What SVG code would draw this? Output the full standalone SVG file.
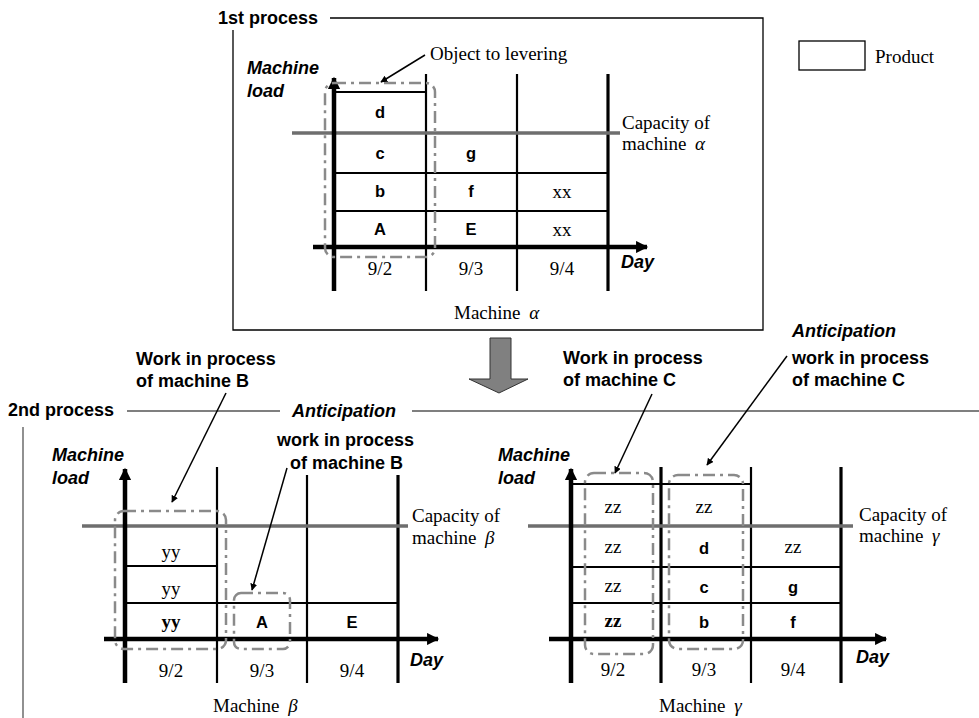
<svg xmlns="http://www.w3.org/2000/svg" width="979" height="718" viewBox="0 0 979 718">
<style>
.bs{font-family:"Liberation Sans",Arial,sans-serif;font-weight:bold;font-size:18px;fill:#000}
.bi{font-family:"Liberation Sans",Arial,sans-serif;font-weight:bold;font-style:italic;font-size:18px;fill:#000}
.cell{font-family:"Liberation Sans",Arial,sans-serif;font-weight:bold;font-size:16.5px;fill:#000;text-anchor:middle}
.sr{font-family:"Liberation Serif","Times New Roman",serif;font-size:19px;fill:#000}
.src{font-family:"Liberation Serif","Times New Roman",serif;font-size:19px;fill:#000;text-anchor:middle}
.srb{font-family:"Liberation Serif","Times New Roman",serif;font-size:19px;font-weight:bold;fill:#000;text-anchor:middle}
.gk{font-style:italic}
.frame{fill:none;stroke:#000;stroke-width:1.3}
.frame2{fill:none;stroke:#555;stroke-width:1.3}
.axis{stroke:#000;stroke-width:4.5;fill:none}
.col{stroke:#000;stroke-width:2.2;fill:none}
.colT{stroke:#000;stroke-width:3.2;fill:none}
.row{stroke:#000;stroke-width:2;fill:none}
.cap{stroke:#6e6e6e;stroke-width:3.5;fill:none}
.dash{fill:none;stroke:#8a8a8a;stroke-width:2.5;stroke-dasharray:12 5 3 5}
.lead{stroke:#000;stroke-width:1.5;fill:none;marker-end:url(#ah)}
</style>
<defs>
<marker id="ah" viewBox="0 0 10 10" refX="9" refY="5" markerWidth="7" markerHeight="7" markerUnits="userSpaceOnUse" orient="auto">
<path d="M0,0 L10,5 L0,10 z" fill="#000"/>
</marker>
<marker id="ax" viewBox="0 0 10 10" refX="9" refY="5" markerWidth="3.1" markerHeight="2.7" orient="auto">
<path d="M0,0 L10,5 L0,10 z" fill="#000"/>
</marker>
</defs>
<rect width="979" height="718" fill="#fff"/>

<g id="process1-frame">
<text class="bs" x="218" y="24">1st process</text>
<path class="frame" d="M330,18 H763 V330 H233 V30"/>
</g>

<g id="legend">
<rect x="799" y="41" width="66" height="29" fill="#fff" stroke="#000" stroke-width="1.3"/>
<text class="sr" x="875" y="63">Product</text>
</g>

<g id="chart-alpha">
<text class="bi" x="247" y="74">Machine</text>
<text class="bi" x="247" y="97">load</text>
<line class="row" x1="334" y1="92" x2="426" y2="92"/>
<line class="row" x1="334" y1="173" x2="608" y2="173"/>
<line class="row" x1="334" y1="211" x2="608" y2="211"/>
<line class="col" x1="426" y1="74" x2="426" y2="291"/>
<line class="col" x1="517" y1="74" x2="517" y2="291"/>
<line class="colT" x1="608" y1="74" x2="608" y2="291"/>
<line class="cap" x1="292" y1="133" x2="620" y2="133"/>
<line class="axis" x1="334" y1="291" x2="334" y2="78" marker-end="url(#ax)"/>
<line class="axis" x1="313" y1="247" x2="647" y2="247" marker-end="url(#ax)"/>
<text class="cell" x="380" y="118">d</text>
<text class="cell" x="380" y="159">c</text>
<text class="cell" x="471" y="159">g</text>
<text class="cell" x="380" y="197">b</text>
<text class="cell" x="471" y="197">f</text>
<text class="src" x="562" y="198">xx</text>
<text class="cell" x="380" y="235">A</text>
<text class="cell" x="471" y="235">E</text>
<text class="src" x="562" y="236">xx</text>
<text class="src" x="380" y="275">9/2</text>
<text class="src" x="471" y="275">9/3</text>
<text class="src" x="562" y="275">9/4</text>
<text class="bi" x="621" y="268">Day</text>
<text class="sr" x="622" y="129">Capacity of</text>
<text class="sr" x="622" y="150">machine <tspan class="gk" dx="4">α</tspan></text>
<text class="sr" x="454" y="319">Machine <tspan class="gk" dx="4">α</tspan></text>
<rect class="dash" x="325" y="83" width="110" height="174" rx="9"/>
<text class="sr" x="430" y="60">Object to levering</text>
</g>

<g id="transfer-arrow">
<polygon points="490,338 511,338 511,379 528,379 499,393 469,379 490,379" fill="#808080" stroke="#333" stroke-width="1"/>
</g>

<g id="process2-frame">
<text class="bs" x="8" y="416">2nd process</text>
<line class="frame2" x1="127" y1="411" x2="280" y2="411"/>
<text class="bi" x="292" y="417">Anticipation</text>
<line class="frame2" x1="412" y1="411" x2="979" y2="411"/>
<line class="frame2" x1="23" y1="427" x2="23" y2="718"/>
</g>

<g id="labels-2nd">
<text class="bs" x="136" y="365">Work in process</text>
<text class="bs" x="136" y="387">of machine B</text>
<text class="bs" x="277" y="446">work in process</text>
<text class="bs" x="290" y="469">of machine B</text>
<text class="bs" x="563" y="364">Work in process</text>
<text class="bs" x="563" y="386">of machine C</text>
<text class="bi" x="792" y="337">Anticipation</text>
<text class="bs" x="792" y="364">work in process</text>
<text class="bs" x="792" y="386">of machine C</text>
</g>

<g id="chart-beta">
<text class="bi" x="52" y="461">Machine</text>
<text class="bi" x="52" y="484">load</text>
<line class="row" x1="125" y1="566" x2="217" y2="566"/>
<line class="row" x1="125" y1="603" x2="398" y2="603"/>
<line class="col" x1="217" y1="467" x2="217" y2="683"/>
<line class="col" x1="307" y1="475" x2="307" y2="683"/>
<line class="colT" x1="398" y1="475" x2="398" y2="683"/>
<line class="cap" x1="82" y1="526" x2="408" y2="526"/>
<line class="axis" x1="125" y1="683" x2="125" y2="469" marker-end="url(#ax)"/>
<line class="axis" x1="104" y1="639" x2="438" y2="639" marker-end="url(#ax)"/>
<text class="src" x="171" y="558">yy</text>
<text class="src" x="171" y="595">yy</text>
<text class="srb" x="171" y="628">yy</text>
<text class="cell" x="262" y="628">A</text>
<text class="cell" x="352" y="628">E</text>
<text class="src" x="171" y="677">9/2</text>
<text class="src" x="262" y="677">9/3</text>
<text class="src" x="352" y="677">9/4</text>
<text class="bi" x="410" y="666">Day</text>
<text class="sr" x="412" y="522">Capacity of</text>
<text class="sr" x="412" y="544">machine <tspan class="gk" dx="4">β</tspan></text>
<text class="sr" x="213" y="712">Machine <tspan class="gk" dx="4">β</tspan></text>
<rect class="dash" x="115" y="511" width="111" height="138" rx="9"/>
<rect class="dash" x="234" y="593" width="56" height="56" rx="7"/>
</g>

<g id="chart-gamma">
<text class="bi" x="498" y="461">Machine</text>
<text class="bi" x="498" y="484">load</text>
<line class="row" x1="571" y1="484" x2="751" y2="484"/>
<line class="row" x1="571" y1="567" x2="841" y2="567"/>
<line class="row" x1="571" y1="603" x2="841" y2="603"/>
<line class="colT" x1="661" y1="467" x2="661" y2="683"/>
<line class="col" x1="751" y1="467" x2="751" y2="683"/>
<line class="colT" x1="841" y1="467" x2="841" y2="683"/>
<line class="cap" x1="528" y1="526" x2="853" y2="526"/>
<line class="axis" x1="571" y1="683" x2="571" y2="469" marker-end="url(#ax)"/>
<line class="axis" x1="549" y1="639" x2="886" y2="639" marker-end="url(#ax)"/>
<text class="src" x="613" y="513">zz</text>
<text class="src" x="704" y="513">zz</text>
<text class="src" x="613" y="553">zz</text>
<text class="cell" x="704" y="554">d</text>
<text class="src" x="793" y="553">zz</text>
<text class="src" x="613" y="592">zz</text>
<text class="cell" x="704" y="593">c</text>
<text class="cell" x="793" y="593">g</text>
<text class="srb" x="613" y="627">zz</text>
<text class="cell" x="704" y="628">b</text>
<text class="cell" x="793" y="628">f</text>
<text class="src" x="613" y="676">9/2</text>
<text class="src" x="704" y="676">9/3</text>
<text class="src" x="793" y="676">9/4</text>
<text class="bi" x="856" y="663">Day</text>
<text class="sr" x="859" y="521">Capacity of</text>
<text class="sr" x="859" y="542">machine <tspan class="gk" dx="4">γ</tspan></text>
<text class="sr" x="659" y="712">Machine <tspan class="gk" dx="4">γ</tspan></text>
<rect class="dash" x="585" y="473" width="68" height="181" rx="9"/>
<rect class="dash" x="669" y="475" width="74" height="174" rx="9"/>
</g>

<g id="connectors">
<line class="lead" x1="425" y1="55" x2="381" y2="82"/>
<line class="lead" x1="226" y1="393" x2="172" y2="502"/>
<line class="lead" x1="287" y1="468" x2="252" y2="590"/>
<line class="lead" x1="652" y1="394" x2="615" y2="473"/>
<line class="lead" x1="787" y1="356" x2="707" y2="465"/>
</g>
</svg>
